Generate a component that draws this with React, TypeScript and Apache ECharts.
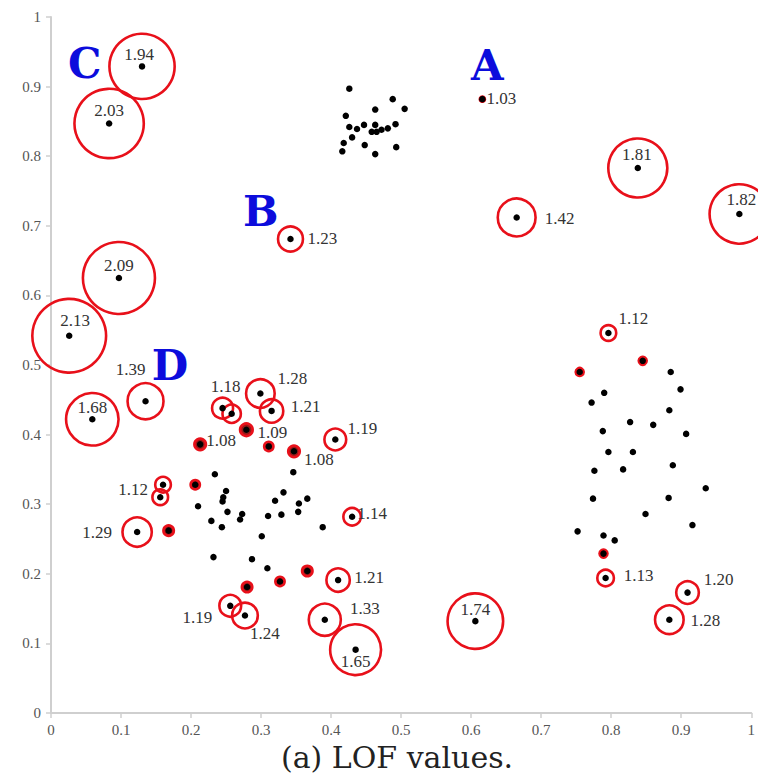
import React, { useEffect, useRef } from "react";
import * as echarts from "echarts";

// Tight cluster near A (plain points)
const clusterA: [number, number][] = [
  [0.426, 0.897], [0.488, 0.882], [0.505, 0.868], [0.463, 0.867], [0.421, 0.858],
  [0.426, 0.842], [0.437, 0.839], [0.447, 0.845], [0.463, 0.845], [0.458, 0.835],
  [0.465, 0.835], [0.472, 0.838], [0.481, 0.84], [0.492, 0.846], [0.43, 0.827],
  [0.418, 0.819], [0.416, 0.807], [0.448, 0.816], [0.463, 0.803], [0.493, 0.813],
];

// Sparse cluster near D (plain points)
const clusterD: [number, number][] = [
  [0.234, 0.343], [0.25, 0.319], [0.246, 0.31], [0.245, 0.304], [0.21, 0.297],
  [0.252, 0.289], [0.273, 0.286], [0.27, 0.278], [0.31, 0.283], [0.329, 0.285],
  [0.229, 0.276], [0.244, 0.267], [0.301, 0.254], [0.232, 0.224], [0.287, 0.221],
  [0.309, 0.208], [0.332, 0.317], [0.32, 0.305], [0.346, 0.346], [0.366, 0.308],
  [0.354, 0.301], [0.353, 0.289], [0.388, 0.267],
];

// Right-hand cluster (plain points)
const clusterR: [number, number][] = [
  [0.885, 0.49], [0.899, 0.465], [0.79, 0.46], [0.772, 0.446], [0.883, 0.435],
  [0.827, 0.418], [0.86, 0.414], [0.788, 0.405], [0.907, 0.401], [0.796, 0.375],
  [0.831, 0.375], [0.776, 0.348], [0.817, 0.35], [0.888, 0.356], [0.935, 0.323],
  [0.774, 0.308], [0.882, 0.309], [0.849, 0.286], [0.916, 0.27], [0.752, 0.261],
  [0.789, 0.255], [0.805, 0.248],
];

// Labelled points: [x, y, LOF]
const labelled: [number, number, number][] = [
  [0.13, 0.929, 1.94], [0.083, 0.847, 2.03], [0.097, 0.625, 2.09], [0.026, 0.542, 2.13],
  [0.059, 0.422, 1.68], [0.135, 0.448, 1.39], [0.342, 0.681, 1.23], [0.616, 0.882, 1.03],
  [0.665, 0.712, 1.42], [0.838, 0.783, 1.81], [0.983, 0.717, 1.82], [0.796, 0.546, 1.12],
  [0.792, 0.194, 1.13], [0.909, 0.173, 1.2], [0.883, 0.134, 1.28], [0.606, 0.132, 1.74],
  [0.435, 0.091, 1.65], [0.391, 0.134, 1.33], [0.41, 0.191, 1.21], [0.277, 0.14, 1.24],
  [0.256, 0.154, 1.19], [0.123, 0.26, 1.29], [0.16, 0.328, 1.12], [0.43, 0.282, 1.14],
  [0.406, 0.393, 1.19], [0.347, 0.376, 1.08], [0.213, 0.386, 1.08], [0.279, 0.407, 1.09],
  [0.315, 0.434, 1.21], [0.299, 0.459, 1.28], [0.245, 0.438, 1.18],
];

// Points with small, unlabelled LOF circles: [x, y, LOF (estimated)]
const unlabelled: [number, number, number][] = [
  [0.156, 0.31, 1.12], [0.258, 0.43, 1.15], [0.311, 0.383, 1.06], [0.206, 0.328, 1.06],
  [0.168, 0.262, 1.07], [0.28, 0.181, 1.07], [0.327, 0.189, 1.06], [0.366, 0.204, 1.07],
  [0.845, 0.506, 1.05], [0.755, 0.49, 1.05], [0.789, 0.229, 1.05],
];

// Cluster annotations: [x, y, letter]
const annotations: [number, number, string][] = [
  [0.0483, 0.9325, "C"], [0.623, 0.931, "A"], [0.2997, 0.72, "B"], [0.17, 0.499, "D"],
];

const tickValues = [0, 0.1, 0.2, 0.3, 0.4, 0.5, 0.6, 0.7, 0.8, 0.9, 1];
const captionText = "(a) LOF values.";

// label placement (pixel offset of text centre from the point), same order as `labelled`
const labelOffsets: [number, number][] = [
  [-3, -12], [0, -13], [0, -13], [6, -15], [0, -12], [-15, -32], [32, -1], [19, -1],
  [43, 1], [-1, -14], [2, -14], [25, -14], [33, -2], [31, -13], [36, 1], [0, -12],
  [0, 12], [40, -11], [31, -3], [20, 18], [-33, 12], [-40, 0], [-30, 5], [20, -3],
  [27, -11], [25, 8], [21, -4], [26, 3], [34, -4], [32, -15], [3, -22],
];

const SERIF = "Liberation Serif";
const RED = "#e8101a";
const ringSize = (lof: number) => Math.max(0, 70 * Math.pow(Math.max(lof - 1, 0.001), 0.65) - 2);

export default function App() {
  const ref = useRef<HTMLDivElement>(null);
  useEffect(() => {
    if (!ref.current) return;
    const chart = echarts.init(ref.current, undefined, { renderer: "svg" });
    const allPlain = [...clusterA, ...clusterD, ...clusterR];
    const outlierPts = [...labelled, ...unlabelled];
    const axisCommon = {
      type: "value" as const,
      min: 0,
      max: 1,
      interval: 0.1,
      splitLine: { show: false },
      axisLine: { show: true, lineStyle: { color: "#cfcfcf", width: 2 } },
      axisTick: { show: true, length: 5, lineStyle: { color: "#cfcfcf", width: 1.5 } },
      axisLabel: {
        fontFamily: SERIF,
        fontSize: 15,
        color: "#555",
        customValues: tickValues,
      },
    };
    chart.setOption({
      animation: false,
      backgroundColor: "#fff",
      grid: { left: 51, right: 3, top: 17, bottom: 67, containLabel: false },
      xAxis: { ...axisCommon, axisLabel: { ...axisCommon.axisLabel, margin: 9 } },
      yAxis: { ...axisCommon, axisLabel: { ...axisCommon.axisLabel, margin: 10 } },
      series: [
        {
          type: "scatter",
          name: "rings",
          symbol: "circle",
          symbolSize: (v: number[]) => ringSize(v[2]),
          itemStyle: { borderColor: RED, borderWidth: 2.6, opacity: 1 },
          data: outlierPts.map((p) => ({
            value: p,
            itemStyle: { color: p[2] < 1.1 ? "#961818" : "rgba(255,255,255,0)" },
          })),
          z: 2,
        },
        {
          type: "scatter",
          name: "points",
          symbol: "circle",
          symbolSize: 6.5,
          itemStyle: { color: "#000", opacity: 1 },
          data: [
            ...allPlain.map((p) => ({ value: p })),
            ...unlabelled.map((p) => ({ value: [p[0], p[1]] })),
            ...labelled.map((p, i) => ({
              value: [p[0], p[1], p[2]],
              label: {
                show: true,
                position: "inside",
                offset: labelOffsets[i],
                formatter: () => p[2].toFixed(2),
                fontFamily: SERIF,
                fontSize: 17,
                color: "#333",
              },
            })),
          ],
          z: 3,
        },
        {
          type: "scatter",
          name: "annotations",
          symbolSize: 1,
          itemStyle: { color: "rgba(0,0,0,0)" },
          label: {
            show: true,
            position: "inside",
            formatter: (p: any) => p.value[2],
            fontFamily: "DejaVu Serif",
            fontWeight: "bold",
            fontSize: 42,
            lineHeight: 32,
            color: "#0c0cdc",
            opacity: 1,
          },
          data: annotations.map((a) => ({ value: a })),
          z: 4,
        },
      ],
      graphic: [
        {
          type: "text",
          x: 397,
          y: 757,
          style: {
            text: captionText,
            fontFamily: "DejaVu Serif",
            fontSize: 30,
            fill: "#222",
            align: "center",
            verticalAlign: "middle",
            textAlign: "center",
            textVerticalAlign: "middle",
          },
        },
      ],
    });
    return () => chart.dispose();
  }, []);
  return (
    <div
      ref={ref}
      style={{ position: "fixed", left: 0, top: 0, width: 758, height: 780, background: "#fff" }}
    />
  );
}
